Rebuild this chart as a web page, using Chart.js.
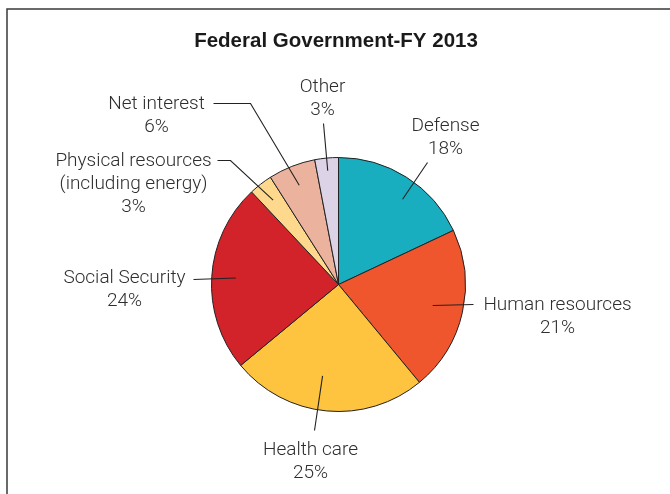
<!DOCTYPE html>
<html>
<head>
<meta charset="utf-8">
<script src="https://cdn.jsdelivr.net/npm/chart.js@4.4.1/dist/chart.umd.min.js"></script>
<style>
  html, body { margin: 0; padding: 0; background: #fff; }
  #wrap { width: 670px; height: 494px; position: relative; }
</style>
</head>
<body>
<div id="wrap"><canvas id="myChart"></canvas></div>
<script>
const ctx = document.getElementById('myChart');

// data, clockwise from 12 o'clock
const categories = ['Defense', 'Human resources', 'Health care', 'Social Security',
    'Physical resources', 'Net interest', 'Other'];
const shares = [18, 21, 25, 24, 3, 6, 3];
const colors = ['#19aebf', '#f0562d', '#fec43f', '#d2232a', '#fed88c', '#ebb39d', '#dcd3e7'];
// text shown beside each slice (first line(s) of the callout)
const calloutNames = [['Defense'], ['Human resources'], ['Health care'], ['Social Security'],
    ['Physical resources', '(including energy)'], ['Net interest'], ['Other']];

// callout geometry, px relative to the pie centre
// at: position across the slice (0..1), r: fraction of radius for the line start
const callouts = [
    { at: 0.57, r: 0.84, line: [[89, -122]], text: [107, -158] },
    { at: 0.5, r: 0.76, line: [[135, 20]], text: [219, 21] },
    { at: 0.55, r: 0.73, line: [[-24, 146]], text: [-28, 166] },
    { at: 0.5, r: 0.81, line: [[-145, -5]], text: [-214, -6] },
    { at: 0.5, r: 0.84, line: [[-108, -124], [-121, -124]], text: [-205, -123] },
    { at: 0.5, r: 0.84, line: [[-88, -181], [-125, -181]], text: [-182, -180] },
    { at: 0.5, r: 0.9, line: [[-15, -161]], text: [-16, -197] }
];

const frameAndLabels = {
    id: 'frameAndLabels',
    afterDraw(chart) {
        const c = chart.ctx;
        const arcs = chart.getDatasetMeta(0).data;
        c.save();
        // frame
        c.strokeStyle = '#3a3a3a';
        c.lineWidth = 1.5;
        c.beginPath();
        c.moveTo(7, 494);
        c.lineTo(7, 9);
        c.lineTo(670, 9);
        c.stroke();

        // title
        c.fillStyle = '#1a1a1a';
        c.font = 'bold 20.5px "Liberation Sans", Arial, sans-serif';
        c.textAlign = 'center';
        c.textBaseline = 'middle';
        c.fillText('Federal Government-FY 2013', 336, 41);

        // callouts
        c.font = '300 19px Roboto, "Liberation Sans", sans-serif';
        c.fillStyle = '#2e2e2e';
        c.strokeStyle = '#222';
        c.lineWidth = 1.1;
        arcs.forEach((arc, i) => {
            const co = callouts[i];
            const { x, y, startAngle, endAngle, outerRadius } = arc.getProps(['x', 'y', 'startAngle', 'endAngle', 'outerRadius'], true);
            const a = startAngle + (endAngle - startAngle) * co.at;
            const rr = outerRadius * co.r;
            c.beginPath();
            c.moveTo(x + Math.cos(a) * rr, y + Math.sin(a) * rr);
            co.line.forEach(p => c.lineTo(x + p[0], y + p[1]));
            c.stroke();
            const lines = calloutNames[i].concat([shares[i] + '%']);
            lines.forEach((t, k) => c.fillText(t, x + co.text[0], y + co.text[1] + k * 23));
        });
        c.restore();
    }
};

new Chart(ctx, {
    type: 'pie',
    data: {
        labels: categories,
        datasets: [{
            data: shares,
            backgroundColor: colors,
            borderColor: '#222',
            borderWidth: 1
        }]
    },
    options: {
        responsive: true,
        maintainAspectRatio: false,
        animation: false,
        events: [],
        layout: {
            padding: { top: 157, bottom: 82, left: 211, right: 204 }
        },
        plugins: {
            legend: { display: false },
            tooltip: { enabled: false }
        }
    },
    plugins: [frameAndLabels]
});
</script>
</body>
</html>
